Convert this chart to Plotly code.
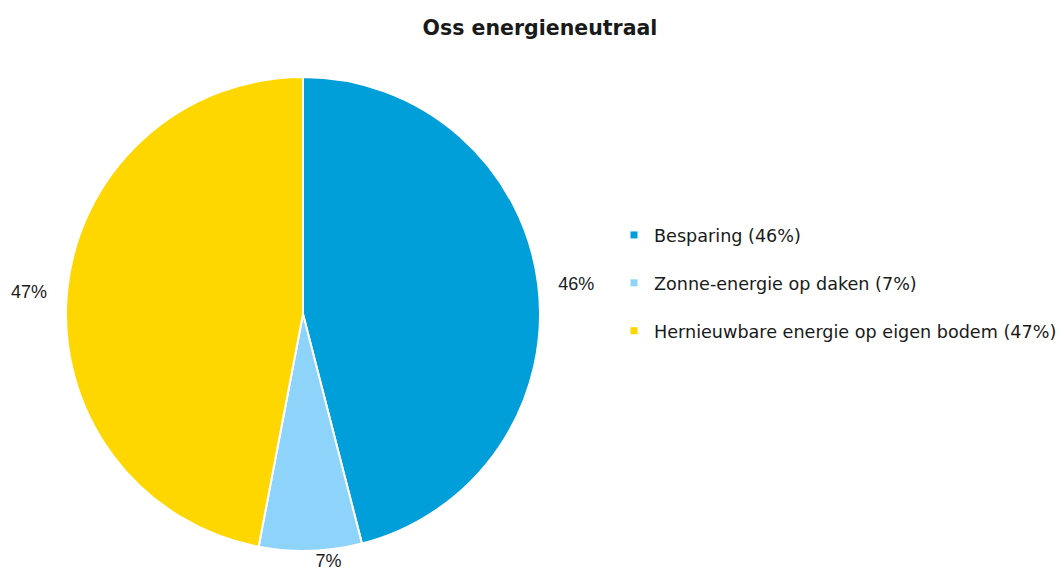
import plotly.graph_objects as go

labels = ["Besparing", "Zonne-energie op daken", "Hernieuwbare energie op eigen bodem"]
values = [46, 7, 47]
colors = ["#009FDA", "#8ED3FA", "#FFD700"]

W, H = 1064, 580
NB = "\u00a0"

fig = go.Figure()

fig.add_trace(go.Pie(
    labels=labels,
    values=values,
    sort=False,
    direction="clockwise",
    rotation=0,
    marker=dict(colors=colors, line=dict(color="white", width=2)),
    textinfo="percent",
    textposition="outside",
    texttemplate=[NB * 3 + "%{percent:.0%}", "%{percent:.0%}", "%{percent:.0%}" + NB * 3],
    textfont=dict(family="Liberation Sans, Arial", size=18, color="#1a1a1a"),
    showlegend=False,
    hoverinfo="label+percent",
    domain=dict(x=[66 / W, 540 / W], y=[29 / H, 503 / H]),
))

# legend entries with percentages in the label
total = sum(values)
for lab, val, col in zip(labels, values, colors):
    fig.add_trace(go.Scatter(
        x=[None], y=[None], mode="markers",
        marker=dict(symbol="square", size=7, color=col),
        name=f"{lab} ({round(val / total * 100)}%)",
        legendgroup=lab,
    ))

fig.update_layout(
    width=W, height=H,
    margin=dict(l=0, r=0, t=0, b=0),
    paper_bgcolor="white",
    plot_bgcolor="white",
    title=dict(
        text="<b>Oss energieneutraal</b>",
        x=540 / W, xanchor="center",
        y=1 - 28 / H, yanchor="middle",
        font=dict(family="DejaVu Sans, Verdana", size=20.5, color="#1a1a1a"),
    ),
    xaxis=dict(visible=False),
    yaxis=dict(visible=False),
    legend=dict(
        x=614 / W, xanchor="left",
        y=1 - 217 / H, yanchor="top",
        font=dict(family="DejaVu Sans, Verdana", size=17.6, color="#1a1a1a"),
        tracegroupgap=22,
        bgcolor="rgba(0,0,0,0)",
    ),
)

fig.write_html("out.html", config={"displayModeBar": False},
               post_script="document.body.style.margin='0';")
